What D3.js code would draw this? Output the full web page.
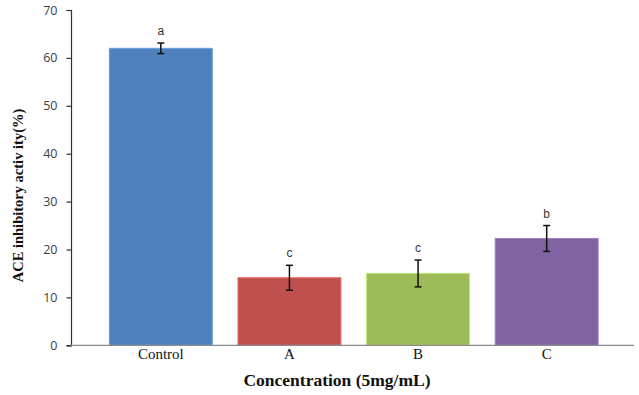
<!DOCTYPE html>
<html>
<head>
<meta charset="utf-8">
<script src="https://cdn.jsdelivr.net/npm/d3@7"></script>
<style>
  html, body { margin: 0; padding: 0; background: #fff; }
  svg { display: block; }
</style>
</head>
<body>
<svg id="chart" width="639" height="395"></svg>
<script>
// ACE inhibitory activity by sample (mean ± SD) with significance letters
const categories = ["Control", "A", "B", "C"];
const means = [62.0, 14.1, 15.0, 22.3];
const errors = [1.1, 2.6, 2.8, 2.7];
const letters = ["a", "c", "c", "b"];
const barColors = ["#4F81BD", "#C0504D", "#9BBB59", "#8064A2"];
const yTicks = [0, 10, 20, 30, 40, 50, 60, 70];

const svg = d3.select("#chart");

const x = d3.scaleBand()
  .domain(categories)
  .range([96.5, 611])
  .paddingInner(0.2)
  .paddingOuter(0.1);

const y = d3.scaleLinear()
  .domain([0, 70])
  .range([345.3, 10]);

// Bars
svg.append("g")
  .selectAll("rect")
  .data(categories)
  .join("rect")
  .attr("x", d => x(d))
  .attr("y", (d, i) => y(means[i]))
  .attr("width", x.bandwidth())
  .attr("height", (d, i) => y(0) - y(means[i]))
  .attr("fill", (d, i) => barColors[i])
  .attr("stroke", (d, i) => d3.color(barColors[i]).brighter(0.6))
  .attr("stroke-width", 1);

// Error bars
const eb = svg.append("g")
  .attr("stroke", "#111")
  .attr("stroke-width", 1.5);
categories.forEach((c, i) => {
  const cx = x(c) + x.bandwidth() / 2;
  const top = y(means[i] + errors[i]);
  const bot = y(means[i] - errors[i]);
  eb.append("line").attr("x1", cx).attr("x2", cx).attr("y1", top).attr("y2", bot);
  eb.append("line").attr("x1", cx - 3.5).attr("x2", cx + 3.5).attr("y1", top).attr("y2", top);
  eb.append("line").attr("x1", cx - 3.5).attr("x2", cx + 3.5).attr("y1", bot).attr("y2", bot);
});

// Significance letters
svg.append("g")
  .selectAll("text")
  .data(categories)
  .join("text")
  .attr("x", d => x(d) + x.bandwidth() / 2)
  .attr("y", (d, i) => y(means[i] + errors[i]) - 8)
  .attr("text-anchor", "middle")
  .attr("font-family", "'Liberation Sans', Arial, sans-serif")
  .attr("font-size", 12)
  .attr("fill", "#333")
  .text((d, i) => letters[i]);

// Y axis
const yAxis = svg.append("g")
  .attr("transform", "translate(71,0)")
  .call(d3.axisLeft(y).tickValues(yTicks).tickSize(4.5).tickPadding(9));
yAxis.select(".domain").attr("stroke", "#333").attr("stroke-width", 1.2);
yAxis.selectAll(".tick line").attr("stroke", "#333").attr("stroke-width", 1.2);
yAxis.selectAll(".tick text")
  .attr("font-family", "'Open Sans', 'Liberation Sans', sans-serif")
  .attr("font-size", 12.5)
  .attr("fill", "#404040");

// X axis baseline
svg.append("line")
  .attr("x1", 71).attr("x2", 634)
  .attr("y1", y(0)).attr("y2", y(0))
  .attr("stroke", "#8a8a8a")
  .attr("stroke-width", 1.2);

// Category labels
svg.append("g")
  .selectAll("text")
  .data(categories)
  .join("text")
  .attr("x", d => x(d) + x.bandwidth() / 2)
  .attr("y", 359)
  .attr("text-anchor", "middle")
  .attr("font-family", "'Liberation Serif', 'Times New Roman', serif")
  .attr("font-size", 15)
  .attr("fill", "#111")
  .text(d => d);

// Axis titles
svg.append("text")
  .attr("x", 337)
  .attr("y", 386)
  .attr("text-anchor", "middle")
  .attr("font-family", "'Liberation Serif', 'Times New Roman', serif")
  .attr("font-weight", "bold")
  .attr("font-size", 17.5)
  .attr("fill", "#111")
  .text("Concentration (5mg/mL)");

svg.append("text")
  .attr("transform", "translate(22.5,195.5) rotate(-90)")
  .attr("text-anchor", "middle")
  .attr("font-family", "'Liberation Serif', 'Times New Roman', serif")
  .attr("font-weight", "bold")
  .attr("font-size", 14.5)
  .attr("fill", "#111")
  .text("ACE inhibitory activ ity(%)");
</script>
</body>
</html>
